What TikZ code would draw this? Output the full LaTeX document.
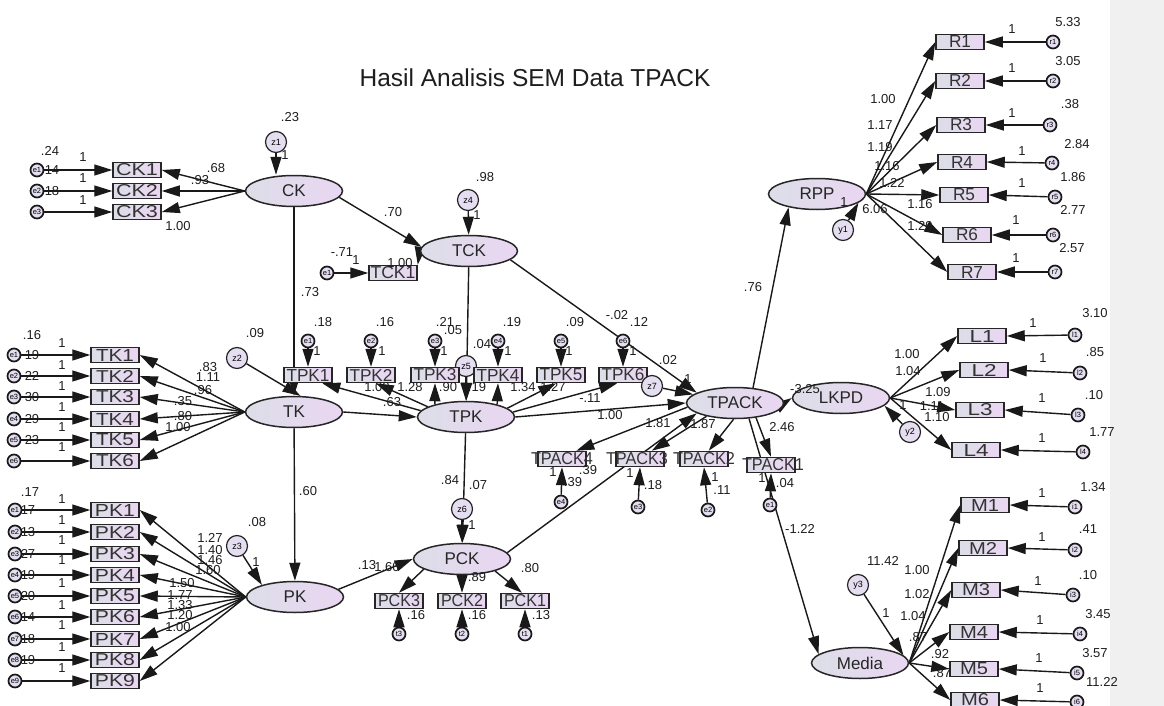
\documentclass[tikz,border=0pt]{standalone}
\usepackage{fontspec}
\setmainfont{Liberation Sans}
\usepackage{graphicx}
\usetikzlibrary{shapes.geometric,arrows.meta,backgrounds}
\definecolor{fl}{RGB}{220,222,232}
\definecolor{fr}{RGB}{234,214,242}
\definecolor{cf}{RGB}{228,222,240}
\definecolor{panel}{RGB}{240,240,240}
\definecolor{tx}{RGB}{30,30,30}
\newcounter{lbc}
\newcommand\lab[2]{\stepcounter{lbc}\node[lbl] (lab\arabic{lbc}) at (#1) {#2};}
\newcommand\bt[2]{\resizebox{#1pt}{12pt}{#2}}
\tikzset{
  obs/.style={draw=black!85, line width=1.5pt, minimum width=48pt, minimum height=15pt, inner sep=0pt, left color=fl, right color=fr, font=\fontsize{17}{17}\selectfont, text=black!80},
  lat/.style={ellipse, draw=black!85, line width=1.5pt, minimum width=97pt, minimum height=31pt, inner sep=0pt, left color=fl, right color=fr, font=\fontsize{17}{17}\selectfont, text=black!85},
  err/.style={circle, draw=black!90, line width=1.7pt, minimum size=13pt, inner sep=0pt, fill=cf, font=\fontsize{7.5}{7.5}\selectfont},
  dist/.style={circle, draw=black!85, line width=1.2pt, minimum size=21pt, inner sep=0pt, fill=cf, font=\fontsize{9}{9}\selectfont},
  lbl/.style={inner sep=0pt, text=tx, font=\fontsize{13}{13}\selectfont},
  arr/.style={-{Triangle[length=18pt,width=11pt]}, line width=1.4pt, draw=black!90},
  ttl/.style={inner sep=0pt, text=tx, font=\fontsize{24.5}{25}\selectfont}
}
\begin{document}
\begin{tikzpicture}[x=1pt,y=-1pt]
\useasboundingbox (0,0) rectangle (1164,706);
\node[ttl] (title) at (535,78) {Hasil Analisis SEM Data TPACK};
% ---------- CK
\node[lat] (CK) at (294,191) {CK};
\node[dist] (z1) at (276,142) {z1};
\node[obs] (CK1) at (137,170) {\bt{42}{CK1}};
\node[obs] (CK2) at (137,191) {\bt{42}{CK2}};
\node[obs] (CK3) at (137,212) {\bt{42}{CK3}};
\node[err] (ec1) at (37,170) {e1};
\node[err] (ec2) at (37,191) {e2};
\node[err] (ec3) at (37,212) {e3};
% ---------- TCK
\node[lat] (TCK) at (469,251) {TCK};
\node[dist] (z4) at (468,200) {z4};
\node[obs] (TCK1) at (393,273) {\bt{45}{TCK1}};
\node[err] (et1) at (327,273) {e1};
% ---------- TK
\node[lat] (TK) at (294,412) {TK};
\node[dist] (z2) at (237,358) {z2};
\foreach \i/\y in {1/355,2/376,3/397,4/419,5/440,6/461}{
  \node[obs] (TK\i) at (115,\y) {\bt{38}{TK\i}};
  \node[err] (etk\i) at (14,\y) {e\i};
}
% ---------- PK
\node[lat] (PK) at (295,597) {PK};
\node[dist] (z3) at (237,546) {z3};
\foreach \i/\y in {1/510,2/532,3/554,4/575,5/596,6/617,7/639,8/660,9/681}{
  \node[obs] (PK\i) at (115,\y) {\bt{40}{PK\i}};
  \node[err] (epk\i) at (15,\y) {e\i};
}
% ---------- TPK
\node[lat] (TPK) at (466,417) {TPK};
\node[dist] (z5) at (466,366) {z5};
\foreach \i/\x in {1/308,2/371,3/435,4/498,5/561,6/623}{
  \node[obs] (TPK\i) at (\x,375) {\bt{43}{TPK\i}};
  \node[err] (etp\i) at (\x,341) {e\i};
}
\node[dist] (z7) at (652,386) {z7};
% ---------- PCK
\node[lat] (PCK) at (462,559) {PCK};
\node[dist] (z6) at (462,509) {z6};
\foreach \i/\x in {3/399,2/462,1/525}{
  \node[obs] (PCK\i) at (\x,601) {\bt{42}{PCK\i}};
  \node[err] (ep\i) at (\x,634) {t\i};
}
% ---------- TPACK
\node[lat] (TPACK) at (735,403) {TPACK};
\node[obs] (T4) at (562,459) {};
\node[obs] (T3) at (640,459) {};
\node[obs] (T2) at (704,459) {};
\node[obs] (T1) at (771,465) {};
\node[inner sep=0pt, text=black!80, font=\fontsize{17}{17}\selectfont] (T4t) at (562,459) {\bt{62}{TPACK4}};
\node[inner sep=0pt, text=black!80, font=\fontsize{17}{17}\selectfont] (T3t) at (637,459) {\bt{62}{TPACK3}};
\node[inner sep=0pt, text=black!80, font=\fontsize{17}{17}\selectfont] (T2t) at (704,459) {\bt{62}{TPACK2}};
\node[inner sep=0pt, text=black!80, font=\fontsize{17}{17}\selectfont] (T1t) at (773,465) {\bt{62}{TPACK1}};
\node[err] (eT4) at (561,502) {e4};
\node[err] (eT3) at (638,507) {e3};
\node[err] (eT2) at (708,510) {e2};
\node[err] (eT1) at (770,505) {e1};
% ---------- RPP
\node[lat] (RPP) at (817,194) {RPP};
\node[dist] (y1) at (843,230) {y1};
\foreach \i/\x/\y/\ex/\ey in {1/960/42/1053/42,2/960/81/1053/81,3/961/125/1050/125,4/962/162/1052/163,5/964/195/1055/197,6/967/235/1053/235,7/972/272/1055/272}{
  \node[obs] (R\i) at (\x,\y) {\bt{22}{R\i}};
  \node[err] (er\i) at (\ex,\ey) {r\i};
}
% ---------- LKPD
\node[lat] (LKPD) at (841,398) {LKPD};
\node[dist] (y2) at (910,432) {y2};
\foreach \i/\x/\y/\ex/\ey in {1/982/336/1075/335,2/984/370/1080/373,3/980/410/1078/415,4/976/450/1083/452}{
  \node[obs] (L\i) at (\x,\y) {\bt{25}{L\i}};
  \node[err] (el\i) at (\ex,\ey) {l\i};
}
% ---------- Media
\node[lat] (Media) at (860,663) {Media};
\node[dist] (y3) at (858,585) {y3};
\foreach \i/\x/\y/\ex/\ey in {1/985/505/1075/507,2/983/548/1075/550,3/976/590/1073/595,4/974/632/1080/634,5/974/669/1077/673,6/975/700/1077/702}{
  \node[obs] (M\i) at (\x,\y) {\bt{28}{M\i}};
  \node[err] (em\i) at (\ex,\ey) {i\i};
}
% ---------- edges on background
\begin{scope}[on background layer]
\fill[white] (0,0) rectangle (1164,706);
\fill[panel] (1110,0) rectangle (1164,706);
\foreach \i in {1,2,3}{\draw[arr] (ec\i) -- (CK\i.west); \draw[arr] (CK.west) -- (CK\i.east);}
\draw[arr] (z1) -- (z1 |- CK.north);
\draw[arr] (CK.-8) -- (TCK.175);
\draw[arr] (CK) -- (TK);
\draw[arr] (z4) -- (TCK);
\draw[arr] (TCK.west) -- (TCK1.north east);
\draw[arr] (et1) -- (TCK1.west);
\draw[arr] (TCK) -- (TPK);
\draw[arr] (TCK.-12) -- (TPACK.165);
\foreach \i in {1,...,6}{\draw[arr] (etk\i) -- (TK\i.west); \draw[arr] (TK.west) -- (TK\i.east);}
\draw[arr] (z2) -- (TK.68);
\draw[arr] (TK) -- (PK);
\draw[arr] (TK.east) -- (TPK.west);
\foreach \i in {1,...,9}{\draw[arr] (epk\i) -- (PK\i.west); \draw[arr] (PK.west) -- (PK\i.east);}
\draw[arr] (z3) -- (PK.160);
\draw[arr] (PK.10) -- (PCK.west);
\foreach \i in {1,...,6}{\draw[arr] (etp\i) -- (TPK\i.north);}
\draw[arr] (TPK.172) -- (TPK1.-30);
\draw[arr] (TPK.165) -- (TPK2.-60);
\draw[arr] (TPK.158) -- (TPK3.south);
\draw[arr] (TPK.22) -- (TPK4.south);
\draw[arr] (TPK.12) -- (TPK5.-120);
\draw[arr] (TPK.6) -- (TPK6.-125);
\draw[arr] (z5) -- (TPK);
\draw[arr] (TPK) -- (PCK);
\draw[arr] (TPK.east) -- (TPACK.west);
\draw[arr] (z6) -- (PCK);
\draw[arr] (PCK.195) -- (PCK3.north);
\draw[arr] (PCK) -- (PCK2.north);
\draw[arr] (PCK.-20) -- (PCK1.110);
\foreach \i in {1,2,3}{\draw[arr] (ep\i) -- (PCK\i.south);}
\draw[arr] (PCK.8) -- (TPACK.195);
\draw[arr] (z7) -- (TPACK);
\draw[arr] (TPACK.185) -- (T4.30);
\draw[arr] (TPACK.205) -- (T3.35);
\draw[arr] (TPACK.-95) -- (T2.60);
\draw[arr] (TPACK.-35) -- (T1.north);
\draw[arr] (eT4) -- (T4.south);
\draw[arr] (eT3) -- (T3.south);
\draw[arr] (eT2) -- (T2.south);
\draw[arr] (eT1) -- (T1.south);
\draw[arr] (TPACK.40) -- (RPP.-155);
\draw[arr] (TPACK.east) -- (LKPD.west);
\draw[arr] (TPACK.-48) -- (Media.168);
\foreach \i in {1,...,7}{\draw[arr] (er\i) -- (R\i.east); \draw[arr] (RPP.east) -- (R\i.west);}
\draw[arr] (y1) -- (RPP.-12);
\foreach \i in {1,...,4}{\draw[arr] (el\i) -- (L\i.east); \draw[arr] (LKPD.east) -- (L\i.west);}
\draw[arr] (y2) -- (LKPD.-10);
\foreach \i in {1,...,6}{\draw[arr] (em\i) -- (M\i.east); \draw[arr] (Media.east) -- (M\i.west);}
\draw[arr] (y3) -- (Media.10);
\end{scope}
% ---------- labels
% CK
\lab{290,117}{.23} \lab{285,155}{1} \lab{50,151}{.24} \lab{52,170}{14} \lab{52,191}{18}
\lab{83,157}{1} \lab{83,178}{1} \lab{83,200}{1}
\lab{216,168}{.68} \lab{200,180}{.93} \lab{178,226}{1.00}
% TCK
\lab{393,212}{.70} \lab{485,177}{.98} \lab{477,215}{1} \lab{342,252}{-.71} \lab{356,260}{1}
\lab{400,263}{1.00} \lab{310,292}{.73}
% TK
\lab{255,333}{.09} \lab{32,335}{.16}
\lab{32,355}{19} \lab{32,376}{22} \lab{32,397}{30} \lab{32,419}{29} \lab{32,440}{23}
\lab{62,343}{1} \lab{62,365}{1} \lab{62,386}{1} \lab{62,407}{1} \lab{62,427}{1} \lab{62,447}{1}
\lab{208,367}{.83} \lab{208,377}{1.11} \lab{203,390}{.96} \lab{183,401}{.35} \lab{183,416}{.80} \lab{178,427}{1.00}
% PK
\lab{30,492}{.17}
\lab{28,510}{17} \lab{28,532}{13} \lab{28,554}{27} \lab{28,575}{19} \lab{28,596}{20} \lab{28,617}{14} \lab{28,639}{18} \lab{28,660}{19}
\lab{62,499}{1} \lab{62,520}{1} \lab{62,540}{1} \lab{62,560}{1} \lab{62,583}{1} \lab{62,605}{1} \lab{62,625}{1} \lab{62,647}{1} \lab{62,668}{1}
\lab{257,522}{.08} \lab{256,562}{1}
\lab{210,538}{1.27} \lab{210,550}{1.40} \lab{210,560}{1.46} \lab{208,570}{1.60} \lab{182,583}{1.50}
\lab{180,595}{1.77} \lab{180,605}{1.33} \lab{180,615}{1.20} \lab{178,627}{1.00}
\lab{308,491}{.60}
% TPK
\lab{323,322}{.18} \lab{385,322}{.16} \lab{445,322}{.21} \lab{512,322}{.19} \lab{575,322}{.09} \lab{639,322}{.12}
\lab{317,351}{1} \lab{382,351}{1} \lab{444,351}{1} \lab{508,351}{1} \lab{569,351}{1} \lab{633,351}{1}
\lab{453,330}{.05} \lab{482,344}{.04} \lab{617,315}{-.02}
\lab{377,387}{1.00} \lab{410,387}{1.28} \lab{392,402}{.63} \lab{448,387}{.90} \lab{477,387}{.19}
\lab{523,387}{1.34} \lab{553,387}{1.27} \lab{590,398}{-.11} \lab{610,415}{1.00}
\lab{668,360}{.02} \lab{688,379}{1}
% PCK
\lab{472,525}{1} \lab{450,480}{.84} \lab{478,485}{.07}
\lab{416,615}{.16} \lab{477,615}{.16} \lab{541,615}{.13}
\lab{367,565}{.13} \lab{387,567}{1.60} \lab{477,577}{.89} \lab{530,568}{.80}
% TPACK
\lab{658,423}{1.81} \lab{703,424}{1.87} \lab{782,427}{2.46}
\lab{588,470}{.39} \lab{573,482}{.39} \lab{553,472}{1} \lab{630,473}{1} \lab{653,485}{.18}
\lab{715,477}{1} \lab{722,490}{.11} \lab{762,478}{1} \lab{785,483}{.04}
\lab{805,389}{-3.25} \lab{753,287}{.76} \lab{800,529}{-1.22}
% RPP
\lab{1068,22}{5.33} \lab{1068,61}{3.05} \lab{1070,104}{.38} \lab{1077,144}{2.84} \lab{1073,177}{1.86} \lab{1073,210}{2.77} \lab{1072,248}{2.57}
\lab{1012,29}{1} \lab{1012,68}{1} \lab{1012,113}{1} \lab{1022,151}{1} \lab{1022,183}{1} \lab{1016,220}{1} \lab{1016,258}{1}
\lab{883,99}{1.00} \lab{880,125}{1.17} \lab{880,147}{1.19} \lab{887,166}{1.16} \lab{892,183}{1.22} \lab{920,204}{1.16} \lab{920,226}{1.29}
\lab{844,202}{1} \lab{875,209}{6.06}
% LKPD
\lab{1095,313}{3.10} \lab{1095,352}{.85} \lab{1094,395}{.10} \lab{1102,432}{1.77}
\lab{1033,323}{1} \lab{1043,358}{1} \lab{1042,398}{1} \lab{1042,438}{1}
\lab{907,354}{1.00} \lab{908,371}{1.04} \lab{938,392}{1.09} \lab{932,406}{1.11} \lab{937,417}{1.10} \lab{903,405}{1}
% Media
\lab{1093,487}{1.34} \lab{1088,529}{.41} \lab{1088,575}{.10} \lab{1098,614}{3.45} \lab{1095,653}{3.57} \lab{1102,682}{11.22}
\lab{1042,493}{1} \lab{1042,537}{1} \lab{1038,581}{1} \lab{1040,620}{1} \lab{1039,658}{1} \lab{1040,688}{1}
\lab{883,561}{11.42} \lab{886,613}{1}
\lab{917,570}{1.00} \lab{917,594}{1.02} \lab{913,616}{1.04} \lab{918,637}{.87} \lab{940,654}{.92} \lab{942,673}{.87}
\end{tikzpicture}
\end{document}
